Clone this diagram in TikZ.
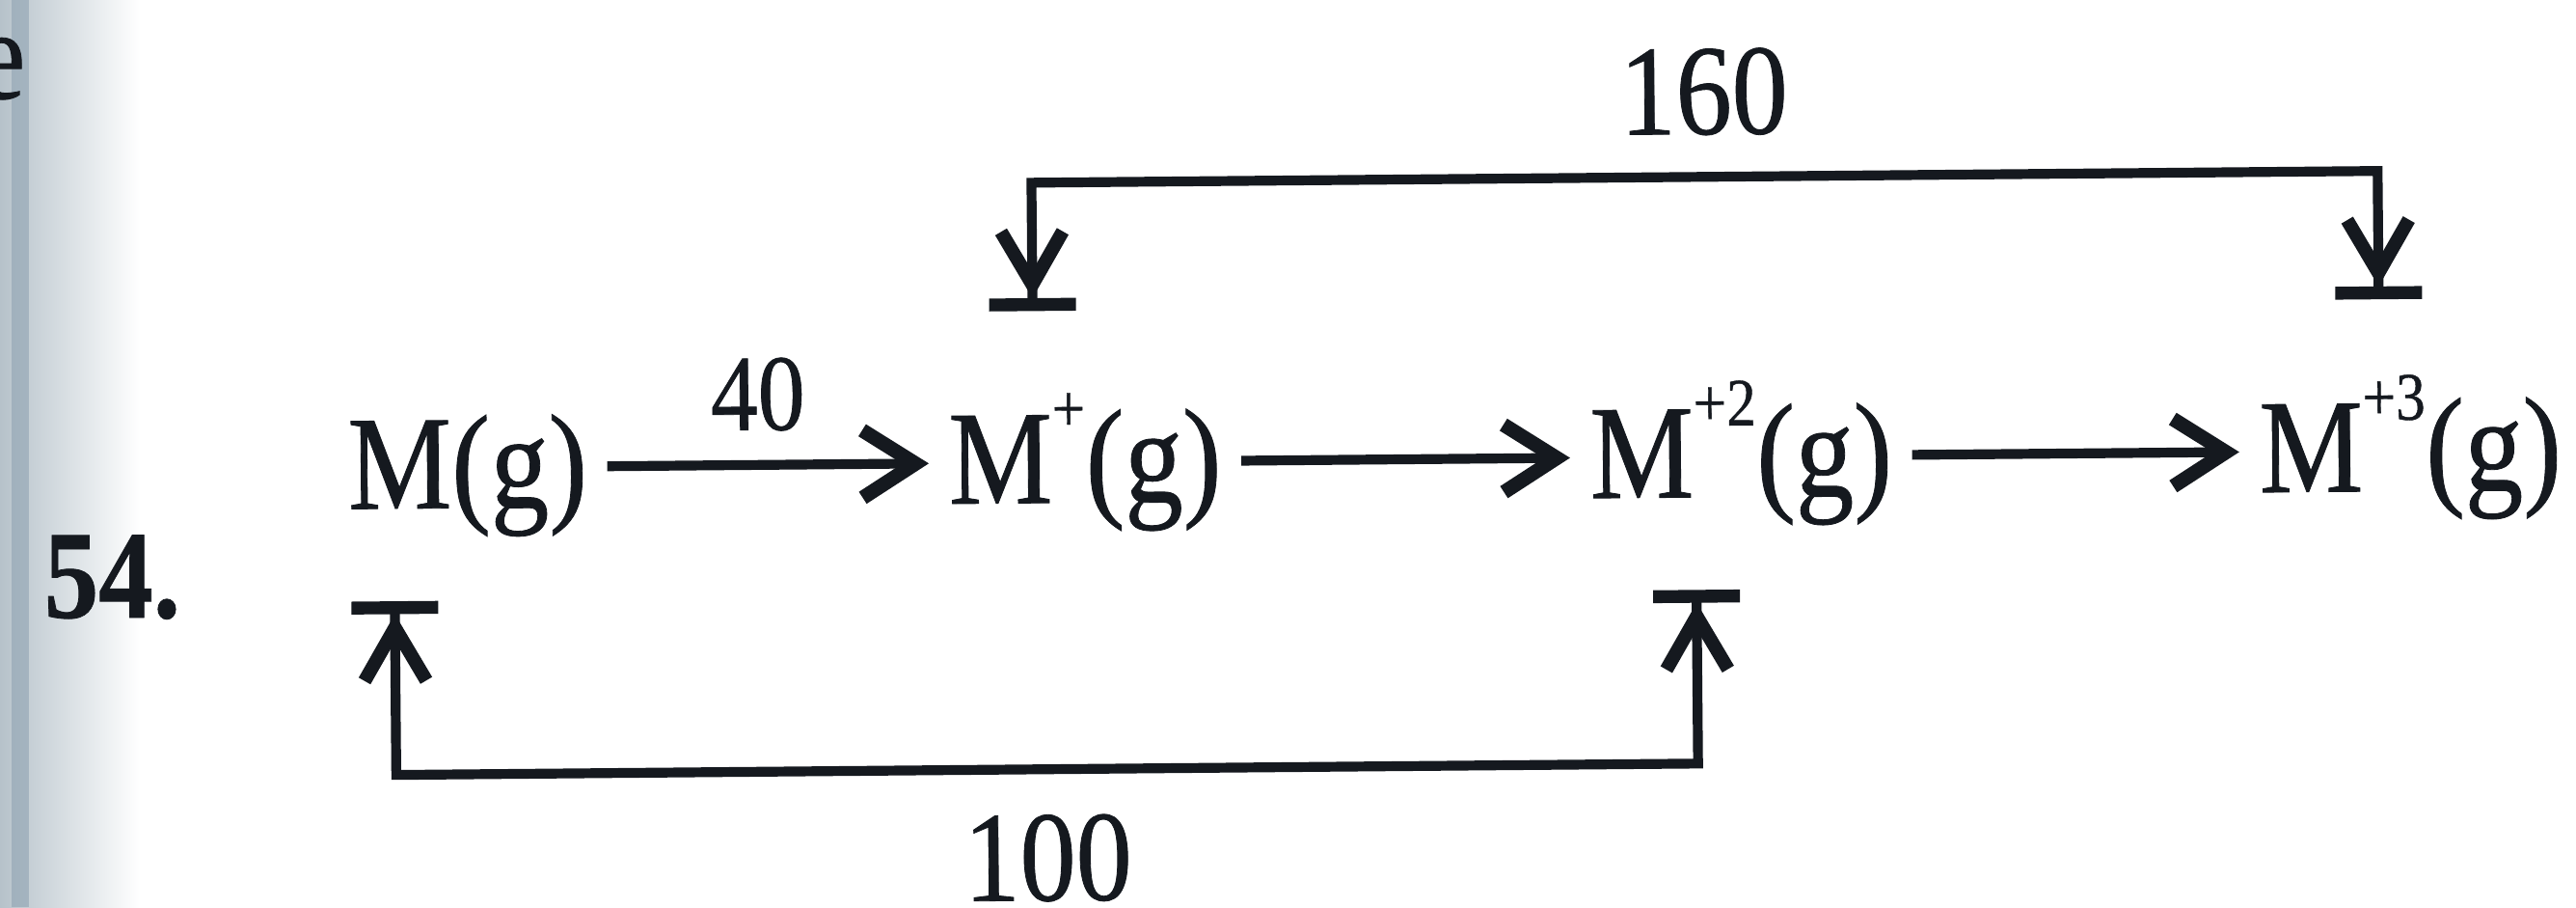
\documentclass[tikz,border=0pt]{standalone}
\usepackage{fontspec}
\setmainfont[FakeStretch=0.87,FakeBold=0.6]{Liberation Serif}
\usetikzlibrary{arrows.meta,positioning}
\definecolor{Tinta}{HTML}{15191F}
\definecolor{Margen}{HTML}{B6C2CA}
\definecolor{MargenOscuro}{HTML}{8FA3B2}
\newcommand\chg[1]{\raisebox{0.74cm}{\fontsize{20}{20}\selectfont #1}}

\begin{document}
\begin{tikzpicture}[
  Tinta,
  species/.style={anchor=base west,inner xsep=2mm,inner ysep=0pt,
    text height=1.0cm,text depth=0.16cm,font=\fontsize{39.5}{40}\selectfont},
  lbl/.style={inner sep=0pt,font=\fontsize{38}{40}\selectfont},
  chevron/.tip={Straight Barb[length=5.5mm,width=6.4mm,line width'=4pt,sep=0pt]},
  tope/.tip={Bar[width=9mm,line width'=3.8pt,sep=0pt]},
  reac/.style={line width=2.9pt,-{Straight Barb[length=5.5mm,width=7mm,line width'=4.2pt]}},
  loopline/.style={line width=2.9pt,{tope[]chevron[]}-{chevron[]tope[]}}
]
  \useasboundingbox (0,0) rectangle (26.71,9.40);

  % borde de la hoja escaneada
  \fill[left color=Margen,right color=white] (0,0) rectangle (1.45,9.40);
  \fill[MargenOscuro,opacity=0.6] (0.12,0) rectangle (0.30,9.40);
  \begin{scope}
    \clip (0,0) rectangle (26.71,9.40);
    \node[lbl,anchor=base east] (prev) at (0.27,8.38) {e};
  \end{scope}
  \node[lbl,anchor=base west,font=\bfseries\fontsize{37}{38}\selectfont] (num) at (0.45,3.00) {54.};

  % cadena de ionizaciones
  \begin{scope}[rotate around={0.5:(13.35,4.7)},transform shape]
    \node[species] (Mg) at (3.40,4.21) {M(g)};
    \node[species] (Mp) at (9.63,4.21) {M\chg{+}(g)};
    \node[species] (Mpp) at (16.28,4.21) {M\chg{+2}(g)};
    \node[species] (Mppp) at (23.22,4.21) {M\chg{+3}(g)};

    \draw[reac] (Mg) -- node[lbl,pos=0.47,above=0.3cm,font=\fontsize{32}{34}\selectfont] (e1) {40} (Mp);
    \draw[reac] (Mp) -- (Mpp);
    \draw[reac] (Mpp) -- (Mppp);

    \coordinate (inMp) at (10.72,6.20);
    \coordinate (inMppp) at (24.68,6.20);
    \coordinate (inMg) at (4.08,3.25);
    \coordinate (inMpp) at (17.58,3.25);

    \draw[loopline] (inMp) -- ++(0,1.33) -| node[lbl,pos=0.25,above=0.38cm] (e13) {160} (inMppp);
    \draw[loopline] (inMg) -- ++(0,-1.80) -| node[lbl,pos=0.25,below=0.42cm] (e12) {100} (inMpp);
  \end{scope}
\end{tikzpicture}
\end{document}
